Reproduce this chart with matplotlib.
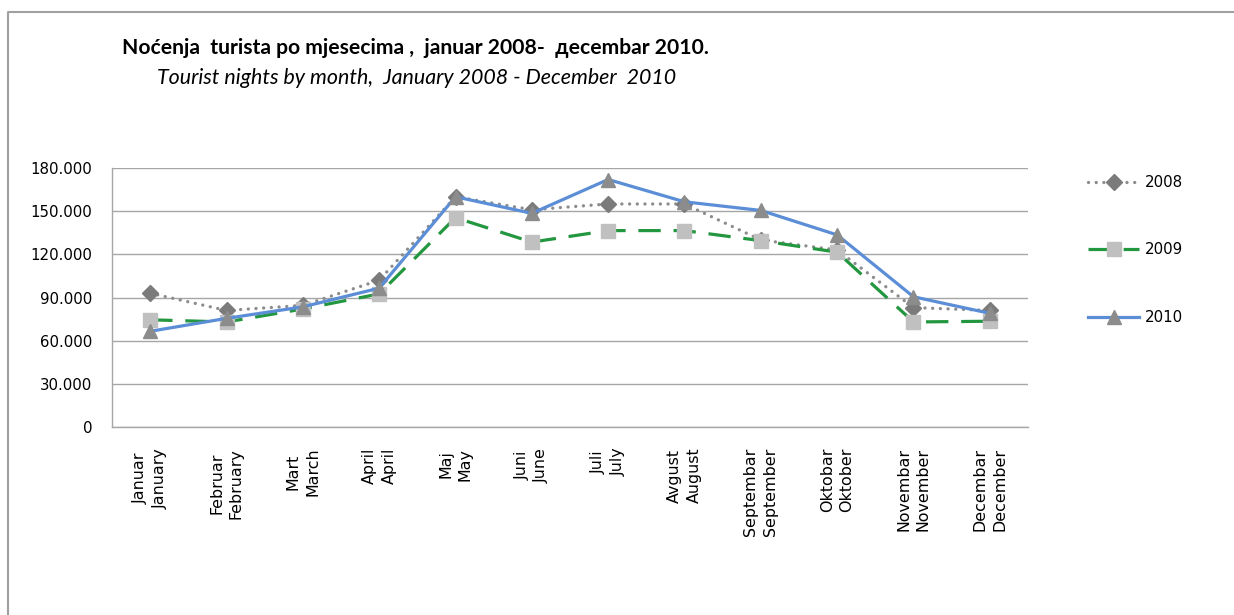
import matplotlib
matplotlib.use("Agg")
import matplotlib.pyplot as plt
from matplotlib.lines import Line2D
from matplotlib.ticker import FuncFormatter

months_local = ["Januar", "Februar", "Mart", "April", "Maj", "Juni",
                "Juli", "Avgust", "Septembar", "Oktobar", "Novembar", "Decembar"]
months_en = ["January", "February", "March", "April", "May", "June",
             "July", "August", "September", "Oktober", "November", "December"]

nights_2008 = [93000, 81000, 84500, 102000, 160000, 151000,
               155000, 155000, 130000, 123000, 83000, 81000]
nights_2009 = [74500, 73000, 82000, 92500, 145500, 128500,
               136500, 136500, 129500, 121500, 73000, 73500]
nights_2010 = [66500, 75500, 83500, 96500, 160000, 148500,
               172000, 156500, 150500, 133500, 90500, 79000]

title = "Noćenja  turista po mjesecima ,  januar 2008-  дecembar 2010."
subtitle = "Tourist nights by month,  January 2008 - December  2010"

W, H = 1234, 615
fig = plt.figure(figsize=(W / 100, H / 100), dpi=100)
ax = fig.add_axes([112 / W, 1 - 427 / H, (1028 - 112) / W, (427 - 168) / H])

x = list(range(len(months_local)))
grey_line = "#a6a6a6"

ax.plot(x, nights_2008, color="#8c8c8c", lw=2.4, linestyle=(0, (0.01, 2.3)),
        dash_capstyle="round", marker="D", ms=8, mfc="#7b7b7b", mec="#7b7b7b",
        label="2008", zorder=3)
ax.plot(x, nights_2009, color="#23973f", lw=2.3, linestyle=(0, (7, 4)),
        marker="s", ms=9.5, mfc="#c0c0c0", mec="#c0c0c0", label="2009", zorder=4)
ax.plot(x, nights_2010, color="#5b8ed6", lw=2.3, marker="^", ms=10.5,
        mfc="#8c8c8c", mec="#8c8c8c", label="2010", zorder=5)

ax.set_xlim(-0.5, len(x) - 0.5)
ax.set_ylim(0, 180000)
ax.set_yticks(range(0, 180001, 30000))
ax.yaxis.set_major_formatter(FuncFormatter(lambda v, p: f"{v:,.0f}".replace(",", ".")))
ax.set_xticks(x)
ax.set_xticklabels([f"{a}\n{b}" for a, b in zip(months_local, months_en)],
                   rotation=90, multialignment="center", linespacing=1.4)

ax.grid(axis="y", color=grey_line, lw=1)
ax.set_axisbelow(True)
for side in ("top", "right"):
    ax.spines[side].set_visible(False)
for side in ("left", "bottom"):
    ax.spines[side].set_color(grey_line)
    ax.spines[side].set_linewidth(1)
ax.tick_params(axis="both", length=0, colors="#000000")
ax.tick_params(axis="y", pad=14, labelsize=10.8)
ax.tick_params(axis="x", pad=15, labelsize=11.4)
for t in ax.get_xticklabels() + ax.get_yticklabels():
    t.set_family("DejaVu Sans")

fig.legend(loc="upper left", bbox_to_anchor=(1088 / W, 1 - 175 / H),
           frameon=False, fontsize=10.8, handlelength=3.4, handletextpad=0.4,
           labelspacing=3.5, borderpad=0, borderaxespad=0)

fig.text(122 / W, 1 - 48 / H, title, fontsize=15.2, fontweight="bold",
         family=["Lato", "DejaVu Sans"], ha="left", va="center")
fig.text(157 / W, 1 - 78 / H, subtitle, fontsize=15.4, style="italic",
         family=["Lato", "DejaVu Sans"], ha="left", va="center")

# chart frame (only top and left edges show in the picture)
fig.add_artist(Line2D([8 / W, 8 / W, 1.0], [0.0, 1 - 12 / H, 1 - 12 / H],
                      transform=fig.transFigure, color="#a0a0a0", lw=1.5))

fig.savefig("out.png", dpi=100)
